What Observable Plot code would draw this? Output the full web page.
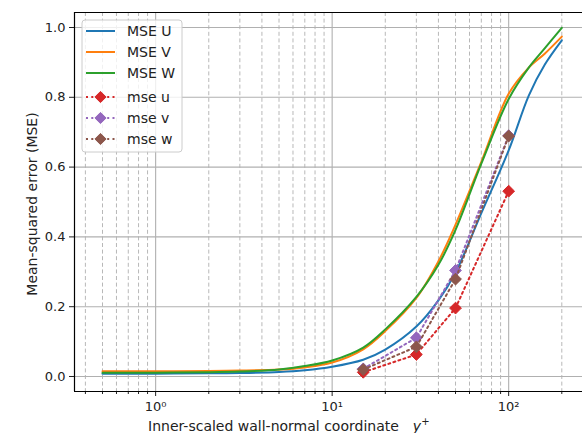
<!DOCTYPE html>
<html>
<head>
<meta charset="utf-8">
<script src="https://cdn.jsdelivr.net/npm/d3@7"></script>
<script src="https://cdn.jsdelivr.net/npm/@observablehq/plot@0.6"></script>
<style>
  html, body { margin: 0; padding: 0; background: white; }
  svg { display: block; }
</style>
</head>
<body>
<div id="chart"></div>
<script>
// ---- data ----
const yPlusCurve = [0.5, 1, 2, 3, 5, 7, 10, 15, 20, 30, 40, 50, 70, 100, 130, 160, 200];
const mseU = [0.008, 0.008, 0.009, 0.010, 0.013, 0.018, 0.028, 0.048, 0.077, 0.143, 0.218, 0.298, 0.468, 0.648, 0.805, 0.893, 0.963];
const mseV = [0.015, 0.015, 0.016, 0.017, 0.020, 0.026, 0.040, 0.078, 0.130, 0.225, 0.330, 0.435, 0.615, 0.810, 0.885, 0.925, 0.974];
const mseW = [0.011, 0.011, 0.012, 0.014, 0.020, 0.030, 0.046, 0.083, 0.135, 0.228, 0.320, 0.420, 0.610, 0.795, 0.885, 0.940, 0.999];

const yPlusPts = [15, 30, 50, 100];
const ptsU = [0.012, 0.063, 0.196, 0.531];
const ptsV = [0.022, 0.111, 0.304, 0.690];
const ptsW = [0.020, 0.085, 0.279, 0.689];

const curveNames = ["MSE U", "MSE V", "MSE W"];
const pointNames = ["mse u", "mse v", "mse w"];
const curveColors = ["#1f77b4", "#ff7f0e", "#2ca02c"];
const pointColors = ["#d62728", "#9467bd", "#8c564b"];

const xMajor = [1, 10, 100];
const xMajorLabels = ["10\u2070", "10\u00b9", "10\u00b2"];
const xMinor = [0.4, 0.5, 0.6, 0.7, 0.8, 0.9, 2, 3, 4, 5, 6, 7, 8, 9, 20, 30, 40, 50, 60, 70, 80, 90, 200];
const yTicks = [0, 0.2, 0.4, 0.6, 0.8, 1.0];

const xDomain = [0.347, 262];
const yDomain = [-0.043, 1.043];

// ---- tables ----
const curveSeries = [mseU, mseV, mseW].map((vals, i) =>
  yPlusCurve.map((x, j) => ({x, y: vals[j], name: curveNames[i]})));
const pointSeries = [ptsU, ptsV, ptsW].map((vals, i) =>
  yPlusPts.map((x, j) => ({x, y: vals[j], name: pointNames[i]})));

const gridColor = "#b0b0b0";
const marks = [
  Plot.ruleX(xMinor, {stroke: gridColor, strokeWidth: 0.9, strokeDasharray: "4,2.6"}),
  Plot.ruleX(xMajor, {stroke: gridColor, strokeWidth: 1.1}),
  Plot.ruleY(yTicks, {stroke: gridColor, strokeWidth: 1.1}),
];
curveSeries.forEach((s, i) => {
  marks.push(Plot.line(s, {x: "x", y: "y", stroke: curveColors[i], strokeWidth: 2, curve: "catmull-rom"}));
});
pointSeries.forEach((s, i) => {
  marks.push(Plot.line(s, {x: "x", y: "y", stroke: pointColors[i], strokeWidth: 2, strokeDasharray: "2,3.3"}));
  marks.push(Plot.dot(s, {x: "x", y: "y", fill: pointColors[i], stroke: pointColors[i], strokeWidth: 1, symbol: "diamond2", r: 5.3}));
});
marks.push(
  Plot.axisX(xMajor, {tickSize: 5, tickPadding: 5, tickFormat: (d) => xMajorLabels[xMajor.indexOf(d)], fontSize: 13, label: null}),
  Plot.axisX(xMinor, {tickSize: 3, tickFormat: () => "", label: null}),
  Plot.axisY(yTicks, {tickSize: 5, tickPadding: 4, tickFormat: d3.format(".1f"), fontSize: 13, label: null}),
  Plot.ruleX([xDomain[0]], {stroke: "black", strokeWidth: 1.2}),
  Plot.ruleY([yDomain[0]], {stroke: "black", strokeWidth: 1.2}),
  Plot.ruleY([yDomain[1]], {stroke: "black", strokeWidth: 1.2})
);

const svgNode = Plot.plot({
  width: 582,
  height: 433,
  marginLeft: 74,
  marginRight: 0,
  marginTop: 12,
  marginBottom: 42,
  style: {fontFamily: "'DejaVu Sans', sans-serif", fontSize: "13px", color: "#222", background: "white"},
  x: {type: "log", domain: xDomain},
  y: {domain: yDomain},
  marks
});
document.getElementById("chart").appendChild(svgNode);

// ---- axis titles & legend ----
const svg = d3.select(svgNode);
const xt = svg.append("text")
  .attr("x", 148).attr("y", 431).attr("text-anchor", "start")
  .attr("font-family", "'DejaVu Sans', sans-serif").attr("font-size", 14).attr("fill", "#222");
xt.append("tspan").text("Inner-scaled wall-normal coordinate");
xt.append("tspan").attr("dx", 14).attr("font-style", "italic").text("y");
xt.append("tspan").attr("dy", -6).attr("font-size", 10).text("+");

svg.append("text")
  .attr("transform", "translate(37,204) rotate(-90)")
  .attr("text-anchor", "middle")
  .attr("font-family", "'DejaVu Sans', sans-serif").attr("font-size", 14).attr("fill", "#222")
  .text("Mean-squared error (MSE)");

const lg = svg.append("g");
lg.append("rect").attr("x", 82).attr("y", 20).attr("width", 100).attr("height", 132)
  .attr("rx", 3).attr("fill", "white").attr("fill-opacity", 0.8).attr("stroke", "#cccccc");
const rowsY = [31, 52, 73, 97, 118, 139];
curveNames.forEach((n, i) => {
  const y = rowsY[i];
  lg.append("line").attr("x1", 86).attr("x2", 115).attr("y1", y).attr("y2", y)
    .attr("stroke", curveColors[i]).attr("stroke-width", 2);
  lg.append("text").attr("x", 127).attr("y", y).attr("dy", "0.36em").attr("text-anchor", "start")
    .attr("font-family", "'DejaVu Sans', sans-serif").attr("font-size", 14).attr("fill", "#222").text(n);
});
pointNames.forEach((n, i) => {
  const y = rowsY[i + 3];
  lg.append("line").attr("x1", 86).attr("x2", 115).attr("y1", y).attr("y2", y)
    .attr("stroke", pointColors[i]).attr("stroke-width", 2).attr("stroke-dasharray", "2,3.3");
  lg.append("path").attr("d", d3.symbol(d3.symbolDiamond2, 80)()).attr("transform", `translate(100.5,${y})`)
    .attr("fill", pointColors[i]).attr("stroke", pointColors[i]);
  lg.append("text").attr("x", 127).attr("y", y).attr("dy", "0.36em").attr("text-anchor", "start")
    .attr("font-family", "'DejaVu Sans', sans-serif").attr("font-size", 14).attr("fill", "#222").text(n);
});
</script>
</body>
</html>
